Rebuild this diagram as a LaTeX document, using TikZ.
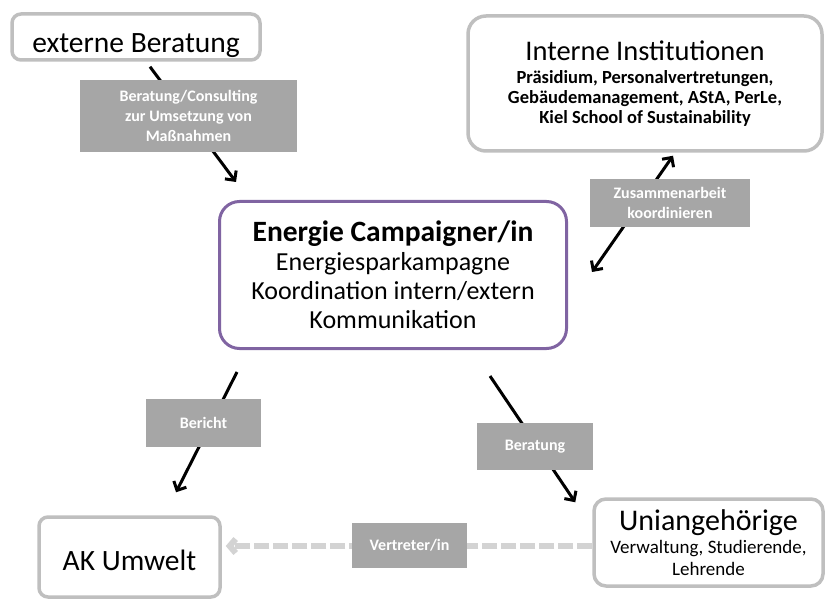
\documentclass[tikz,border=0pt]{standalone}
\usepackage{fontspec}
\setmainfont{Carlito}
\usetikzlibrary{arrows.meta,calc}
\definecolor{boxgray}{HTML}{BFBFBF}
\definecolor{lblgray}{HTML}{A6A6A6}
\definecolor{campurple}{HTML}{8064A2}
\definecolor{dashgray}{HTML}{D3D3D3}
\begin{document}
\begin{tikzpicture}[x=1pt,y=-1pt,
  grybox/.style={draw=boxgray,line width=3.5pt,rounded corners=9pt,fill=white,align=center,inner sep=0pt},
  lbl/.style={fill=lblgray,text=white,font=\bfseries\fontsize{16}{20}\selectfont,align=center,inner sep=0pt},
  flow/.style={line width=3pt,-{Straight Barb[length=7pt,width=14pt]}},
  twoway/.style={line width=3pt,{Straight Barb[length=7pt,width=14pt]}-{Straight Barb[length=7pt,width=14pt]}},
  dashflow/.style={draw=dashgray,line width=6pt,dash pattern=on 15pt off 4pt,-{Straight Barb[length=6pt,width=14pt]}}]
\useasboundingbox (0,0) rectangle (826,601);
\node (ext)[grybox,minimum width=248pt,minimum height=46pt,text height=32pt,text depth=0pt,font=\fontsize{29.5}{32}\selectfont] at (136,37) {externe Beratung};
\node (int)[grybox,rounded corners=18pt,minimum width=354pt,minimum height=135pt,font=\bfseries\fontsize{18.5}{20}\selectfont] at (645,83.5)
  {{\mdseries\fontsize{28.5}{30}\selectfont Interne Institutionen}\\[3.3pt]
   Präsidium, Personalvertretungen,\\Gebäudemanagement, AStA, PerLe,\\Kiel School of Sustainability};
\node (camp)[draw=campurple,line width=3pt,rounded corners=20pt,fill=white,align=center,inner sep=0pt,minimum width=347pt,minimum height=147pt,font=\fontsize{26}{29}\selectfont] at (393,275)
  {{\bfseries\fontsize{29.5}{29}\selectfont Energie Campaigner/in}\\Energiesparkampagne\\Koordination intern/extern\\Kommunikation};
\node (ak)[grybox,minimum width=181pt,minimum height=80pt,text height=26pt,text depth=0pt,font=\fontsize{29.5}{32}\selectfont] at (129.5,557) {AK Umwelt};
\node (uni)[grybox,rounded corners=12pt,minimum width=229pt,minimum height=87pt,font=\fontsize{19}{22}\selectfont] at (708.5,542.5)
  {{\fontsize{30}{32}\selectfont Uniangehörige}\\[1.5pt]
   Verwaltung, Studierende,\\Lehrende};
% Pfeile
\draw[flow] ($(ext.south)+(14,5)$) -- ($(camp.north west)+(18,-18)$);
\draw[twoway] ($(int.south)+(28,3)$) -- ($(camp.east)+(24,-3)$);
\draw[flow] ($(camp.south west)+(19,22)$) -- ($(ak.north)+(46.5,-23)$);
\draw[flow] ($(camp.south)+(97,26)$) -- ($(uni.north west)+(-17,5)$);
\draw[dashflow] ($(uni.west)+(0,3.5)$) -- ($(ak.east)+(4,-11)$);
% Beschriftungen
\node (l1)[lbl,minimum width=217pt,minimum height=72pt] at (188.5,116) {Beratung/Consulting\\zur Umsetzung von\\Maßnahmen};
\node (l2)[lbl,minimum width=160pt,minimum height=48pt] at (670,203) {Zusammenarbeit\\koordinieren};
\node (l3)[lbl,minimum width=115pt,minimum height=48pt] at (203.5,423) {Bericht};
\node (l4)[lbl,minimum width=116pt,minimum height=47pt] at (535,446.5) {Beratung};
\node (l5)[lbl,minimum width=115pt,minimum height=45pt] at (409.5,545.5) {Vertreter/in};
\end{tikzpicture}
\end{document}
